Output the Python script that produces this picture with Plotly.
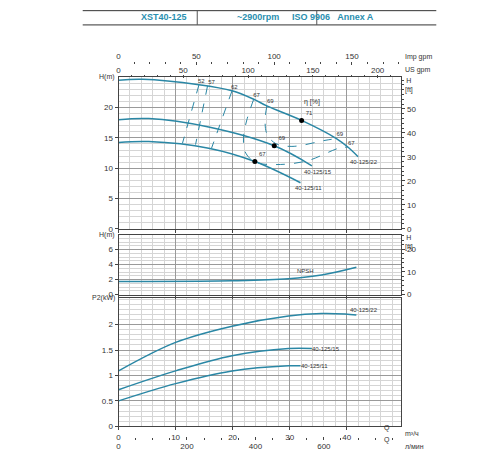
import plotly.graph_objects as go

C = "#2a87a5"
# Head curves (Q m3/h, H m)
q22 = [0, 4.2, 14.1, 19.9, 23.7, 26, 32.1, 38.2, 40.2, 42]
h22 = [24.55, 24.7, 23.8, 22.8, 21.4, 20.3, 17.9, 14.9, 13.5, 11.9]
q15 = [0, 5.3, 15.8, 27.3, 33.9]
h15 = [18.0, 18.2, 16.8, 13.7, 10.4]
q11 = [0, 5.3, 15.8, 23.9, 31.9]
h11 = [14.25, 14.4, 13.3, 11.1, 7.6]
# efficiency iso-lines
e52_q = [14.1, 11.2]; e52_h = [23.8, 14.1]
e57_q = [15.6, 13.5]; e57_h = [23.6, 13.9]
e62_q = [19.9, 16.3]; e62_h = [22.8, 13.3]
e67_q = [23.7, 22.5, 21.9, 22.3, 24, 27.5, 33, 38.6, 40.2]
e67_h = [21.4, 18, 15, 12.5, 11, 10.6, 11.2, 13.3, 13.5]
e69_q = [26, 25.7, 26, 27.5, 30.4, 36.2, 38.2]
e69_h = [20.3, 17.9, 15.7, 14.1, 13.6, 14.6, 14.9]
eff_lbl = ["52", "57", "62", "67", "69", "69", "67"]
eff_q = [14.5, 16.3, 20.3, 24.2, 26.6, 38.8, 40.8]
eff_h = [24.4, 24.1, 23.4, 22.0, 21.0, 15.5, 14.1]
bep_q = [32.1, 27.3, 23.9]; bep_h = [17.9, 13.7, 11.1]; bep_l = ["71", "69", "67"]
# NPSH
npsh_q = [0, 3.0, 19.9, 29.8, 35.6, 41.7]
npsh_h = [1.75, 1.75, 1.84, 2.1, 2.6, 3.64]
# Power
p22_q = [0, 10, 19.9, 29.8, 35.6, 39.7, 41.7]
p22 = [1.09, 1.65, 1.97, 2.17, 2.22, 2.21, 2.19]
p15_q = [0, 10, 19.9, 29.8, 33.9]
p15 = [0.72, 1.09, 1.39, 1.53, 1.53]
p11_q = [0, 10, 19.9, 29.8, 31.9]
p11 = [0.5, 0.84, 1.09, 1.19, 1.19]
models = ["40-125/22", "40-125/15", "40-125/11"]

fig = go.Figure()
def line(x, y, xa, ya, dash=None, w=1.5):
    fig.add_trace(go.Scatter(x=x, y=y, xaxis=xa, yaxis=ya, mode="lines", line_shape="spline",
                             line=dict(color=C, width=w, dash=dash), showlegend=False, hoverinfo="skip"))
for x, y in [(q22, h22), (q15, h15), (q11, h11)]:
    line(x, y, "x2", "y")
for x, y in [(e52_q, e52_h), (e57_q, e57_h), (e62_q, e62_h), (e67_q, e67_h), (e69_q, e69_h)]:
    line(x, y, "x2", "y", dash="dash", w=1)
fig.add_trace(go.Scatter(x=bep_q, y=bep_h, xaxis="x2", yaxis="y", mode="markers+text", text=bep_l,
                         textposition="top right", textfont=dict(size=6, color="#333"),
                         marker=dict(color="black", size=5), showlegend=False))
fig.add_trace(go.Scatter(x=eff_q, y=eff_h, xaxis="x2", yaxis="y", mode="text", text=eff_lbl,
                         textfont=dict(size=6, color="#333"), showlegend=False))
line(npsh_q, npsh_h, "x3", "y2")
for x, y in [(p22_q, p22), (p15_q, p15), (p11_q, p11)]:
    line(x, y, "x", "y3")
for xa in ["x4", "x5", "x6"]:
    fig.add_trace(go.Scatter(x=[0], y=[0], xaxis=xa, yaxis="y3", mode="markers", marker=dict(opacity=0), showlegend=False))
for ya, xa in [("y4", "x2"), ("y5", "x3")]:
    fig.add_trace(go.Scatter(x=[0], y=[0], xaxis=xa, yaxis=ya, mode="markers", marker=dict(opacity=0), showlegend=False))

XD = [0.218, 0.786]
XR = [0, 49.6]
tf = dict(size=8, color="#333")
def g(md):
    return dict(showgrid=True, gridcolor="#9a9a9a", gridwidth=1,
                minor=dict(dtick=md, showgrid=True, gridcolor="#d5d5d5"),
                showline=True, linecolor="#444", mirror=True, ticks="outside", ticklen=3, tickfont=tf, zeroline=False)
def ov(pos, side, rng, vals, md):
    return dict(overlaying="x", anchor="free", position=pos, side=side, range=rng, tickvals=vals,
                showgrid=False, ticks="inside", ticklen=3, tickfont=tf, showline=False, zeroline=False,
                minor=dict(dtick=md, ticks="inside", ticklen=2))
def rt(over, anch, rng, vals):
    return dict(overlaying=over, side="right", anchor=anch, range=rng, tickvals=vals, showgrid=False,
                ticks="outside", ticklen=3, tickfont=tf, zeroline=False, minor=dict(dtick=2, ticks="outside", ticklen=2))
fig.update_layout(
    width=500, height=450, margin=dict(l=0, r=0, t=0, b=0), plot_bgcolor="white", paper_bgcolor="white",
    font=dict(family="Liberation Sans"),
    xaxis=dict(domain=XD, range=XR, anchor="y3", tickvals=[0, 10, 20, 30, 40], **g(2)),
    xaxis2=dict(domain=XD, range=XR, anchor="y", dtick=10, showticklabels=False, **g(2)),
    xaxis3=dict(domain=XD, range=XR, anchor="y2", dtick=10, showticklabels=False, **g(2)),
    xaxis4=ov(0.851, "top", [0, 49.6 * 4.4029], [0, 50, 100, 150, 200], 10),
    xaxis5=ov(0.882, "top", [0, 49.6 * 3.666], [0, 50, 100, 150], 10),
    xaxis6=ov(0.03, "bottom", [0, 49.6 * 16.667], [0, 200, 400, 600], 50),
    yaxis=dict(domain=[0.504, 0.844], range=[0, 25], tickvals=[0, 5, 10, 15, 20], anchor="x2", **g(1)),
    yaxis2=dict(domain=[0.356, 0.491], range=[0, 8], tickvals=[0, 2, 4, 6], anchor="x3", **g(0.5)),
    yaxis3=dict(domain=[0.06, 0.349], range=[0, 2.53], tickvals=[0, 0.5, 1, 1.5, 2], anchor="x", **g(0.1)),
    yaxis4=rt("y", "x2", [0, 63.1], [0, 10, 20, 30, 40, 50]),
    yaxis5=rt("y2", "x3", [0, 26.5], [0, 10, 20]),
)
ann = []
def A(x, y, t, xr="x2", yr="y", size=6, **k):
    ann.append(dict(x=x, y=y, xref=xr, yref=yr, text=t, showarrow=False, font=dict(size=size, color="#333"), **k))
A(33.9, 20.9, "η [%]", size=7)
A(43, 11.1, models[0]); A(34.9, 9.4, models[1]); A(33.3, 6.7, models[2])
A(32.7, 3.2, "NPSH", xr="x3", yr="y2")
A(43, 2.29, models[0], xr="x", yr="y3"); A(36.3, 1.52, models[1], xr="x", yr="y3"); A(34.3, 1.18, models[2], xr="x", yr="y3")
P = dict(xref="paper", yref="paper", showarrow=False)
for x, y, t, xa, ya in [(0.215, 0.844, "H(m)", "right", "middle"), (0.215, 0.491, "H(m)", "right", "middle"),
                        (0.215, 0.349, "P2(kW)", "right", "middle"),
                        (0.79, 0.85, "H<br>[ft]", "left", "top"), (0.79, 0.497, "H<br>[ft]", "left", "top"),
                        (0.79, 0.89, "Imp gpm", "left", "middle"), (0.79, 0.86, "US gpm", "left", "middle"),
                        (0.79, 0.043, "m³/ч", "left", "middle"), (0.79, 0.015, "л/мин", "left", "middle")]:
    ann.append(dict(x=x, y=y, text=t, xanchor=xa, yanchor=ya, font=dict(size=7, color="#333"), **P))
for y in [0.043, 0.015]:
    ann.append(dict(x=0.768, y=y, text="Q", font=dict(size=7, color="#333"), **P))
for x, t in [(0.26, "XST40-125"), (0.497, "~2900rpm"), (0.735, "ISO 9906   Annex A")]:
    ann.append(dict(x=x, y=0.979, text="<b>" + t + "</b>", yanchor="middle", font=dict(size=9, color="#2a8fb0"), **P))
fig.update_layout(annotations=ann)
shapes = []
for y in [0.994, 0.962]:
    shapes.append(dict(type="line", xref="paper", yref="paper", x0=0.146, x1=0.856, y0=y, y1=y, line=dict(color="#333", width=1)))
for x in [0.376, 0.616]:
    shapes.append(dict(type="line", xref="paper", yref="paper", x0=x, x1=x, y0=0.962, y1=0.994, line=dict(color="#555", width=1)))
fig.update_layout(shapes=shapes)
fig.write_html("out.html")
